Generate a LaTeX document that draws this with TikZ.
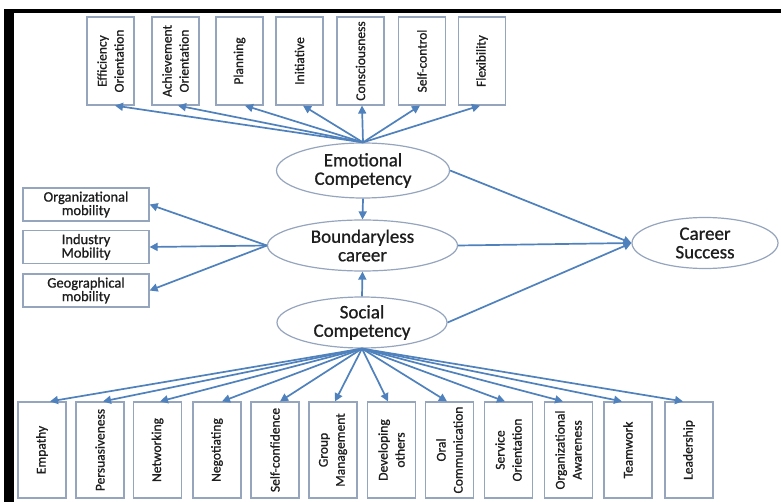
\documentclass[tikz,border=0pt]{standalone}
\usepackage{fontspec}
\setmainfont{Carlito}[FakeBold=0.9]
\usetikzlibrary{arrows.meta,shapes.geometric}
\definecolor{arrowblue}{RGB}{79,129,189}
\definecolor{edgegray}{RGB}{150,165,190}
\definecolor{inkcol}{RGB}{30,30,30}
\begin{document}
\begin{tikzpicture}[x=1pt,y=-1pt,
  vbox/.style={draw=edgegray, line width=1.2pt, fill=white, inner sep=0pt},
  vtext/.style={rotate=90, align=center, text=inkcol, inner sep=0pt,
    font=\fontsize{13.5}{17}\selectfont},
  hbox/.style={draw=edgegray, line width=1.2pt, fill=white, inner sep=0pt,
    minimum width=126pt, minimum height=33pt, align=center, text=inkcol,
    font=\fontsize{14.5}{13.5}\selectfont},
  oval/.style={ellipse, draw=edgegray, line width=1.2pt, fill=white, inner sep=0pt,
    align=center, text=inkcol, font=\fontsize{19}{18.5}\selectfont},
  conn/.style={draw=arrowblue, line width=1.7pt, -{Triangle[length=8pt,width=8pt]}}
]
\fill[white] (0,0) rectangle (781,502);
\useasboundingbox (0,0) rectangle (781,502);

% black frame along the top and left edges
\fill[black] (5,9) rectangle (781,13);
\fill[black] (4,9) rectangle (14,502);

% central constructs
\node[oval, minimum width=173pt, minimum height=55pt] (emo) at (363,170.5) {Emotional\\Competency};
\node[oval, minimum width=190pt, minimum height=51pt] (bound) at (362.5,245.5) {Boundaryless\\career};
\node[oval, minimum width=170pt, minimum height=51pt] (soc) at (362,322.5) {Social\\Competency};
\node[oval, minimum width=146pt, minimum height=51pt] (car) at (705,243) {Career\\Success};

% emotional competency dimensions
\foreach \n/\x/\t in {ef/110.5/{Efficiency\\Orientation},
                      ach/175.5/{Achievement\\Orientation},
                      pla/239.5/{Planning},
                      ini/299.5/{Initiative},
                      con/360.5/{Consciousness},
                      sct/422/{Self-control},
                      fle/482/{Flexibility}}{
  \node[vbox, minimum width=47pt, minimum height=88pt] (\n) at (\x,61) {};
  \node[vtext] (\n-t) at (\n) {\t};
}

% mobility types
\node[hbox] (org) at (86,204.5) {Organizational\\mobility};
\node[hbox] (ind) at (86,247) {Industry\\Mobility};
\node[hbox] (geo) at (86,290.5) {Geographical\\mobility};

% social competency dimensions
\foreach \n/\x/\t in {emp/42/{Empathy},
                      per/100/{Persuasiveness},
                      net/157.5/{Networking},
                      neg/217/{Negotiating},
                      scf/275/{Self-confidence},
                      grp/333/{Group\\Management},
                      dev/391.5/{Developing\\others},
                      ora/449.5/{Oral\\Communication},
                      ser/508.5/{Service\\Orientation},
                      oaw/568.5/{Organizational\\Awareness},
                      tea/628/{Teamwork},
                      lea/689/{Leadership}}{
  \node[vbox, minimum width=48pt, minimum height=96pt] (\n) at (\x,450) {};
  \node[vtext] (\n-t) at (\n) {\t};
}

% emotional competency -> its dimensions
\foreach \n/\s in {ef/4.5, ach/2.5, pla/5.5, ini/3.5, con/1.5, sct/-2, fle/-2}{
  \draw[conn] (emo.north) -- ([xshift=\s pt]\n.south);
}

% boundaryless career -> mobility types
\foreach \n in {org, ind, geo}{
  \draw[conn] (bound.west) -- (\n.east);
}

% social competency -> its dimensions
\foreach \n/\s in {emp/8, per/3, net/2.5, neg/5, scf/5, grp/2, dev/-3.5,
                   ora/-2.5, ser/-3.5, oaw/-5.5, tea/-6, lea/-6}{
  \draw[conn] (soc.south) -- ([xshift=\s pt]\n.north);
}

% paths between the central constructs
\draw[conn] (emo.south) -- (bound.north);
\draw[conn] (soc.north) -- (bound.south);
\draw[conn] (emo.east) -- (car.west);
\draw[conn] (bound.east) -- (car.west);
\draw[conn] (soc.east) -- (car.west);
\end{tikzpicture}
\end{document}
